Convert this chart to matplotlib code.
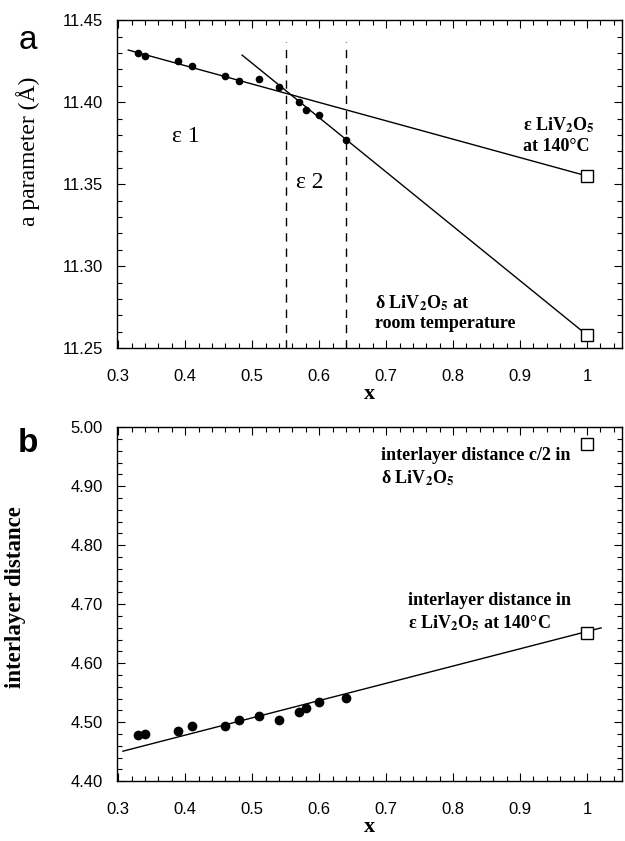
import matplotlib
matplotlib.use('Agg')
import matplotlib.pyplot as plt
from matplotlib.ticker import MultipleLocator, FormatStrFormatter

plt.rcParams['mathtext.fontset'] = 'stix'

# composition x of the measured samples
x = [0.33, 0.34, 0.39, 0.41, 0.46, 0.48, 0.51, 0.54, 0.57, 0.58, 0.60, 0.64]

# (a) a parameter (A)
a_param = [11.430, 11.428, 11.425, 11.422, 11.416, 11.413, 11.414, 11.409,
           11.400, 11.395, 11.392, 11.377]
a_ref_x = [1.0, 1.0]
a_ref_y = [11.355, 11.258]          # eps at 140C, delta at room temperature
fit1_x = [0.315, 1.0]
fit1_y = [11.4318, 11.355]
fit2_x = [0.485, 1.0]
fit2_y = [11.4287, 11.258]
bounds = [0.55, 0.64]               # eps1 / eps2 domain limits

# (b) interlayer distance
d_inter = [4.478, 4.480, 4.485, 4.493, 4.494, 4.504, 4.511, 4.504,
           4.518, 4.525, 4.535, 4.541]
b_ref_x = [1.0, 1.0]
b_ref_y = [4.972, 4.652]
fitb_x = [0.307, 1.021]
fitb_y = [4.451, 4.660]

fig = plt.figure(figsize=(6.25, 8.41), dpi=100)
ax1 = fig.add_axes([0.187, 0.586, 0.808, 0.390])
ax2 = fig.add_axes([0.187, 0.071, 0.808, 0.421])

serif = ['Liberation Serif', 'DejaVu Serif']
sans = ['Liberation Sans', 'DejaVu Sans']
lv = r'LiV$_\mathbf{2}$O$_\mathbf{5}$'

def style(ax, ymaj, ymin):
    ax.set_xlim(0.298, 1.052)
    ax.xaxis.set_major_locator(MultipleLocator(0.1))
    ax.xaxis.set_minor_locator(MultipleLocator(0.02))
    ax.yaxis.set_major_locator(MultipleLocator(ymaj))
    ax.yaxis.set_minor_locator(MultipleLocator(ymin))
    ax.yaxis.set_major_formatter(FormatStrFormatter('%.2f'))
    ax.xaxis.set_major_formatter(lambda v, p: '1' if abs(v - 1) < 1e-6 else '%.1f' % v)
    ax.tick_params(which='both', direction='in', top=True, right=True, width=0.8)
    ax.tick_params(which='major', length=6, labelsize=12)
    ax.tick_params(axis='y', which='major', pad=10)
    ax.tick_params(axis='x', which='major', pad=15)
    ax.tick_params(which='minor', length=3.5)
    for lab in ax.get_xticklabels() + ax.get_yticklabels():
        lab.set_family(sans)
    for s in ax.spines.values():
        s.set_linewidth(1.0)
    ax.set_xlabel('x', family=serif, fontweight='bold', fontsize=16, labelpad=0)

# panel a
ax1.plot(fit1_x, fit1_y, color='black', lw=1.0)
ax1.plot(fit2_x, fit2_y, color='black', lw=1.0)
ax1.vlines(bounds, 11.25, 11.437, colors='black', linestyles=(0, (6, 5)), lw=1.0)
ax1.plot(x, a_param, 'o', color='black', ms=4.5)
ax1.plot(a_ref_x, a_ref_y, 's', mfc='white', mec='black', ms=8, mew=1.0)
ax1.set_ylim(11.25, 11.45)
style(ax1, 0.05, 0.01)
ax1.set_ylabel('a parameter (Å)', family=serif, fontsize=17)
ax1.yaxis.set_label_coords(-0.152, 0.6)
ax1.text(0.38, 11.379, 'ε 1', family=serif, fontsize=17, va='center')
ax1.text(0.565, 11.351, 'ε 2', family=serif, fontsize=17, va='center')
ax1.text(0.905, 11.386, 'ε ' + lv, family=serif, fontweight='bold', fontsize=13, va='center')
ax1.text(0.905, 11.373, 'at 140°C', family=serif, fontweight='bold', fontsize=13, va='center')
ax1.text(0.684, 11.2775, 'δ ' + lv + ' at', family=serif, fontweight='bold', fontsize=13,
         va='center')
ax1.text(0.684, 11.265, 'room temperature', family=serif, fontweight='bold', fontsize=13,
         va='center')

# panel b
ax2.plot(fitb_x, fitb_y, color='black', lw=1.0)
ax2.plot(x, d_inter, 'o', color='black', ms=6)
ax2.plot(b_ref_x, b_ref_y, 's', mfc='white', mec='black', ms=8, mew=1.0)
ax2.set_ylim(4.40, 5.00)
style(ax2, 0.1, 0.02)
ax2.set_ylabel('interlayer distance', family=serif, fontweight='bold', fontsize=16.5)
ax2.yaxis.set_label_coords(-0.18, 0.52)
ax2.text(0.692, 4.9525, 'interlayer distance c/2 in', family=serif, fontweight='bold',
         fontsize=13, va='center')
ax2.text(0.692, 4.914, 'δ ' + lv, family=serif, fontweight='bold', fontsize=13, va='center')
ax2.text(0.732, 4.707, 'interlayer distance in', family=serif, fontweight='bold',
         fontsize=13, va='center')
ax2.text(0.732, 4.668, 'ε ' + lv + ' at 140°C', family=serif, fontweight='bold',
         fontsize=13, va='center')

fig.text(0.045, 0.952, 'a', family=sans, fontsize=24, ha='center', va='center')
fig.text(0.045, 0.473, 'b', family=sans, fontsize=24, fontweight='bold', ha='center',
         va='center')

fig.savefig('out.png', dpi=100)
